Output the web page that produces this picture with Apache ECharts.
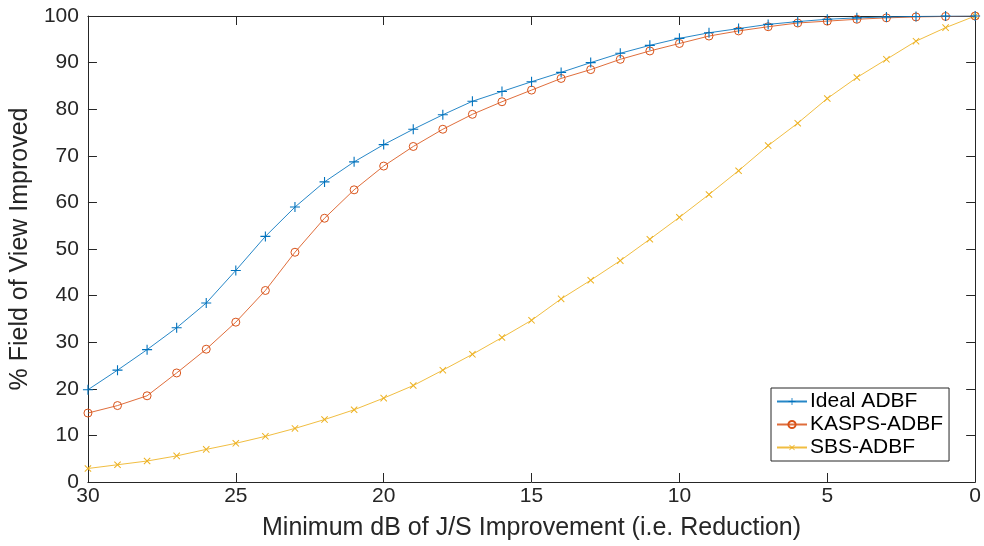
<!DOCTYPE html>
<html><head><meta charset="utf-8">
<script src="https://cdn.jsdelivr.net/npm/echarts@6/dist/echarts.min.js"></script>
<style>html,body{margin:0;padding:0;background:#fff}#c{width:984px;height:546px}</style>
</head><body><div id="c"></div>
<script>
const dB = [30,29,28,27,26,25,24,23,22,21,20,19,18,17,16,15,14,13,12,11,10,9,8,7,6,5,4,3,2,1,0];
const idealADBF = [19.8,24.0,28.4,33.1,38.4,45.4,52.7,59.0,64.4,68.7,72.4,75.7,78.8,81.7,83.8,85.9,87.9,90.0,92.0,93.7,95.2,96.4,97.3,98.2,98.8,99.3,99.6,99.8,99.9,100,100];
const kaspsADBF = [14.8,16.4,18.5,23.4,28.5,34.3,41.1,49.3,56.6,62.7,67.8,72.0,75.7,78.9,81.6,84.1,86.6,88.5,90.7,92.5,94.1,95.7,96.8,97.7,98.5,98.9,99.3,99.6,99.8,99.9,100];
const sbsADBF = [2.9,3.7,4.5,5.6,7.0,8.3,9.8,11.5,13.4,15.5,18.0,20.7,24.0,27.4,31.0,34.7,39.3,43.3,47.5,52.1,56.8,61.7,66.8,72.2,77.0,82.3,86.8,90.7,94.6,97.5,100];
const seriesNames = ['Ideal ADBF','KASPS-ADBF','SBS-ADBF'];
const xTitle = 'Minimum dB of J/S Improvement (i.e. Reduction)';
const yTitle = '% Field of View Improved';

const FONT = '"Liberation Sans", Arial, Helvetica, sans-serif';
const AX = '#262626';
const PLUS = 'path://M-0.11,-1H0.11V-0.11H1V0.11H0.11V1H-0.11V0.11H-1V-0.11H-0.11Z';
const pairs = arr => dB.map((x,i)=>[x,arr[i]]);
const colors = ['#0072BD','#D95319','#EDB120'];

const chart = echarts.init(document.getElementById('c'), null, {renderer:'canvas'});
const axBase = {
  axisLine:{show:true,onZero:false,lineStyle:{color:AX,width:1}},
  axisTick:{show:true,inside:true,length:9,lineStyle:{color:AX,width:1}},
  splitLine:{show:false}
};
chart.setOption({
  animation:false,
  backgroundColor:'#fff',
  grid:{left:85,right:6,top:16,bottom:59},
  xAxis:[
    Object.assign({type:'value',min:0,max:30,interval:5,inverse:true,position:'bottom',
      name:xTitle,nameLocation:'middle',nameGap:34,
      nameTextStyle:{fontFamily:FONT,fontSize:25,color:AX},
      axisLabel:{fontFamily:FONT,fontSize:21,color:AX,margin:4}},axBase),
    Object.assign({type:'value',min:0,max:30,interval:5,inverse:true,position:'top',
      axisLabel:{show:false}},axBase)
  ],
  yAxis:[
    Object.assign({type:'value',min:0,max:100,interval:10,position:'left',
      name:yTitle,nameLocation:'middle',nameGap:51,
      nameTextStyle:{fontFamily:FONT,fontSize:25,color:AX},
      axisLabel:{fontFamily:FONT,fontSize:21,color:AX,margin:9}},axBase),
    Object.assign({type:'value',min:0,max:100,interval:10,position:'right',
      axisLabel:{show:false}},axBase)
  ],
  legend:{
    orient:'vertical',left:771,top:388,
    padding:[3,6,3,5],itemGap:2,itemWidth:30,itemHeight:9,
    borderColor:'#262626',borderWidth:1,backgroundColor:'#fff',
    textStyle:{fontFamily:FONT,fontSize:21,color:'#000',padding:[0,0,0,-2]},
    data:seriesNames
  },
  series:[
    {name:seriesNames[0],type:'line',data:pairs(idealADBF),symbol:PLUS,symbolSize:10,
      lineStyle:{color:colors[0],width:1,opacity:0.85},itemStyle:{color:colors[0]},z:3},
    {name:seriesNames[1],type:'line',data:pairs(kaspsADBF),symbol:'circle',symbolSize:8,
      lineStyle:{color:colors[1],width:1,opacity:0.85},itemStyle:{color:'transparent',borderColor:colors[1],borderWidth:1},z:2},
    {name:seriesNames[2],type:'line',data:pairs(sbsADBF),symbol:PLUS,symbolRotate:45,symbolSize:9,
      lineStyle:{color:colors[2],width:1,opacity:0.85},itemStyle:{color:colors[2]},z:1}
  ]
});
</script></body></html>
